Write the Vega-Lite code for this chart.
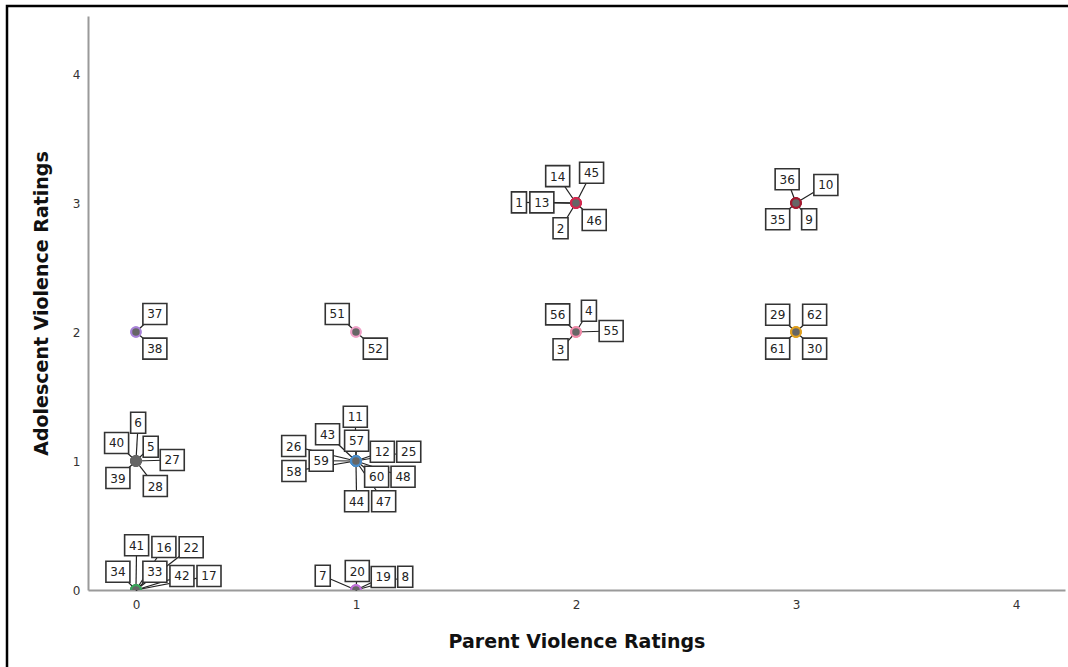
{
  "$schema": "https://vega.github.io/schema/vega-lite/v6.json",
  "autosize": "none",
  "width": 977,
  "height": 574,
  "padding": {"left": 88, "top": 16, "right": 3, "bottom": 77},
  "background": "white",
  "config": {
    "view": {"stroke": null},
    "font": "DejaVu Sans",
    "axis": {
      "grid": false,
      "ticks": false,
      "domainColor": "#9a9a9a",
      "domainWidth": 2,
      "labelFont": "DejaVu Sans",
      "labelFontSize": 12,
      "labelColor": "#333333",
      "format": "d",
      "titleFont": "DejaVu Sans",
      "titleFontSize": 19,
      "titleFontWeight": "bold",
      "titleColor": "#111111"
    }
  },
  "datasets": {
    "cases": [
      {"case": 6, "pair": "0,1", "parent": 0, "adolescent": 1, "labelParent": 0.010, "labelAdolescent": 1.297},
      {"case": 40, "pair": "0,1", "parent": 0, "adolescent": 1, "labelParent": -0.088, "labelAdolescent": 1.140},
      {"case": 5, "pair": "0,1", "parent": 0, "adolescent": 1, "labelParent": 0.067, "labelAdolescent": 1.111},
      {"case": 27, "pair": "0,1", "parent": 0, "adolescent": 1, "labelParent": 0.165, "labelAdolescent": 1.008},
      {"case": 39, "pair": "0,1", "parent": 0, "adolescent": 1, "labelParent": -0.082, "labelAdolescent": 0.868},
      {"case": 28, "pair": "0,1", "parent": 0, "adolescent": 1, "labelParent": 0.088, "labelAdolescent": 0.806},
      {"case": 11, "pair": "1,1", "parent": 1, "adolescent": 1, "labelParent": 0.997, "labelAdolescent": 1.343},
      {"case": 43, "pair": "1,1", "parent": 1, "adolescent": 1, "labelParent": 0.871, "labelAdolescent": 1.207},
      {"case": 57, "pair": "1,1", "parent": 1, "adolescent": 1, "labelParent": 1.003, "labelAdolescent": 1.157},
      {"case": 26, "pair": "1,1", "parent": 1, "adolescent": 1, "labelParent": 0.717, "labelAdolescent": 1.116},
      {"case": 12, "pair": "1,1", "parent": 1, "adolescent": 1, "labelParent": 1.120, "labelAdolescent": 1.072},
      {"case": 25, "pair": "1,1", "parent": 1, "adolescent": 1, "labelParent": 1.240, "labelAdolescent": 1.072},
      {"case": 59, "pair": "1,1", "parent": 1, "adolescent": 1, "labelParent": 0.842, "labelAdolescent": 1.002},
      {"case": 58, "pair": "1,1", "parent": 1, "adolescent": 1, "labelParent": 0.718, "labelAdolescent": 0.922},
      {"case": 60, "pair": "1,1", "parent": 1, "adolescent": 1, "labelParent": 1.094, "labelAdolescent": 0.878},
      {"case": 48, "pair": "1,1", "parent": 1, "adolescent": 1, "labelParent": 1.214, "labelAdolescent": 0.878},
      {"case": 44, "pair": "1,1", "parent": 1, "adolescent": 1, "labelParent": 1.003, "labelAdolescent": 0.688},
      {"case": 47, "pair": "1,1", "parent": 1, "adolescent": 1, "labelParent": 1.126, "labelAdolescent": 0.688},
      {"case": 41, "pair": "0,0", "parent": 0, "adolescent": 0, "labelParent": 0.003, "labelAdolescent": 0.347},
      {"case": 16, "pair": "0,0", "parent": 0, "adolescent": 0, "labelParent": 0.127, "labelAdolescent": 0.333},
      {"case": 22, "pair": "0,0", "parent": 0, "adolescent": 0, "labelParent": 0.251, "labelAdolescent": 0.331},
      {"case": 34, "pair": "0,0", "parent": 0, "adolescent": 0, "labelParent": -0.082, "labelAdolescent": 0.142},
      {"case": 33, "pair": "0,0", "parent": 0, "adolescent": 0, "labelParent": 0.086, "labelAdolescent": 0.142},
      {"case": 42, "pair": "0,0", "parent": 0, "adolescent": 0, "labelParent": 0.209, "labelAdolescent": 0.109},
      {"case": 17, "pair": "0,0", "parent": 0, "adolescent": 0, "labelParent": 0.332, "labelAdolescent": 0.109},
      {"case": 7, "pair": "1,0", "parent": 1, "adolescent": 0, "labelParent": 0.849, "labelAdolescent": 0.111},
      {"case": 20, "pair": "1,0", "parent": 1, "adolescent": 0, "labelParent": 1.006, "labelAdolescent": 0.147},
      {"case": 19, "pair": "1,0", "parent": 1, "adolescent": 0, "labelParent": 1.124, "labelAdolescent": 0.101},
      {"case": 8, "pair": "1,0", "parent": 1, "adolescent": 0, "labelParent": 1.224, "labelAdolescent": 0.103},
      {"case": 14, "pair": "2,3", "parent": 2, "adolescent": 3, "labelParent": 1.917, "labelAdolescent": 3.209},
      {"case": 45, "pair": "2,3", "parent": 2, "adolescent": 3, "labelParent": 2.071, "labelAdolescent": 3.235},
      {"case": 1, "pair": "2,3", "parent": 2, "adolescent": 3, "labelParent": 1.741, "labelAdolescent": 3.005},
      {"case": 13, "pair": "2,3", "parent": 2, "adolescent": 3, "labelParent": 1.845, "labelAdolescent": 3.005},
      {"case": 2, "pair": "2,3", "parent": 2, "adolescent": 3, "labelParent": 1.930, "labelAdolescent": 2.804},
      {"case": 46, "pair": "2,3", "parent": 2, "adolescent": 3, "labelParent": 2.083, "labelAdolescent": 2.868},
      {"case": 36, "pair": "3,3", "parent": 3, "adolescent": 3, "labelParent": 2.960, "labelAdolescent": 3.184},
      {"case": 10, "pair": "3,3", "parent": 3, "adolescent": 3, "labelParent": 3.136, "labelAdolescent": 3.140},
      {"case": 35, "pair": "3,3", "parent": 3, "adolescent": 3, "labelParent": 2.917, "labelAdolescent": 2.874},
      {"case": 9, "pair": "3,3", "parent": 3, "adolescent": 3, "labelParent": 3.060, "labelAdolescent": 2.874},
      {"case": 56, "pair": "2,2", "parent": 2, "adolescent": 2, "labelParent": 1.917, "labelAdolescent": 2.137},
      {"case": 4, "pair": "2,2", "parent": 2, "adolescent": 2, "labelParent": 2.059, "labelAdolescent": 2.165},
      {"case": 55, "pair": "2,2", "parent": 2, "adolescent": 2, "labelParent": 2.160, "labelAdolescent": 2.008},
      {"case": 3, "pair": "2,2", "parent": 2, "adolescent": 2, "labelParent": 1.930, "labelAdolescent": 1.866},
      {"case": 29, "pair": "3,2", "parent": 3, "adolescent": 2, "labelParent": 2.917, "labelAdolescent": 2.134},
      {"case": 62, "pair": "3,2", "parent": 3, "adolescent": 2, "labelParent": 3.085, "labelAdolescent": 2.134},
      {"case": 61, "pair": "3,2", "parent": 3, "adolescent": 2, "labelParent": 2.917, "labelAdolescent": 1.871},
      {"case": 30, "pair": "3,2", "parent": 3, "adolescent": 2, "labelParent": 3.085, "labelAdolescent": 1.871},
      {"case": 37, "pair": "0,2", "parent": 0, "adolescent": 2, "labelParent": 0.086, "labelAdolescent": 2.140},
      {"case": 38, "pair": "0,2", "parent": 0, "adolescent": 2, "labelParent": 0.086, "labelAdolescent": 1.871},
      {"case": 51, "pair": "1,2", "parent": 1, "adolescent": 2, "labelParent": 0.915, "labelAdolescent": 2.140},
      {"case": 52, "pair": "1,2", "parent": 1, "adolescent": 2, "labelParent": 1.088, "labelAdolescent": 1.871}
    ]
  },
  "data": {"name": "cases"},
  "layer": [
    {
      "data": {"values": [{}]},
      "mark": {"type": "rect", "fill": null, "stroke": "#000000", "strokeWidth": 2.5, "clip": false},
      "encoding": {
        "x": {"value": -81},
        "x2": {"value": 1000},
        "y": {"value": -10},
        "y2": {"value": 700}
      }
    },
    {
      "mark": {"type": "rule", "stroke": "#222222", "strokeWidth": 1.2},
      "encoding": {
        "x": {
          "field": "parent",
          "type": "quantitative",
          "scale": {"domain": [-0.218, 4.223], "nice": false, "zero": false},
          "axis": {"values": [0, 1, 2, 3, 4], "title": "Parent Violence Ratings", "labelPadding": 9, "titlePadding": 22}
        },
        "y": {
          "field": "adolescent",
          "type": "quantitative",
          "scale": {"domain": [0, 4.45], "nice": false, "zero": false},
          "axis": {"values": [0, 1, 2, 3, 4], "title": "Adolescent Violence Ratings", "labelPadding": 8, "titlePadding": 21}
        },
        "x2": {"field": "labelParent"},
        "y2": {"field": "labelAdolescent"}
      }
    },
    {
      "transform": [{"filter": {"field": "case", "gte": 10}}],
      "mark": {"type": "rect", "width": 24, "height": 21, "fill": "white", "stroke": "#333333", "strokeWidth": 1.6},
      "encoding": {
        "x": {"field": "labelParent", "type": "quantitative"},
        "y": {"field": "labelAdolescent", "type": "quantitative"}
      }
    },
    {
      "transform": [{"filter": {"field": "case", "lt": 10}}],
      "mark": {"type": "rect", "width": 15, "height": 21, "fill": "white", "stroke": "#333333", "strokeWidth": 1.6},
      "encoding": {
        "x": {"field": "labelParent", "type": "quantitative"},
        "y": {"field": "labelAdolescent", "type": "quantitative"}
      }
    },
    {
      "mark": {"type": "text", "font": "DejaVu Sans", "fontSize": 12, "color": "#222222", "align": "center", "baseline": "middle", "dy": 0.5},
      "encoding": {
        "x": {"field": "labelParent", "type": "quantitative"},
        "y": {"field": "labelAdolescent", "type": "quantitative"},
        "text": {"field": "case", "type": "nominal"}
      }
    },
    {
      "mark": {"type": "point", "shape": "circle", "filled": true, "fill": "#666666", "size": 90, "strokeWidth": 2, "opacity": 1, "clip": true},
      "encoding": {
        "x": {"field": "parent", "type": "quantitative"},
        "y": {"field": "adolescent", "type": "quantitative"},
        "stroke": {
          "field": "pair",
          "type": "nominal",
          "legend": null,
          "scale": {
            "domain": ["0,0", "1,0", "0,1", "1,1", "0,2", "1,2", "2,2", "3,2", "2,3", "3,3"],
            "range": ["#3aa35a", "#c070d8", "#666666", "#4a8cc8", "#a882d8", "#f0a0c8", "#f08caa", "#e0a020", "#d2284e", "#a3182e"]
          }
        }
      }
    }
  ]
}
